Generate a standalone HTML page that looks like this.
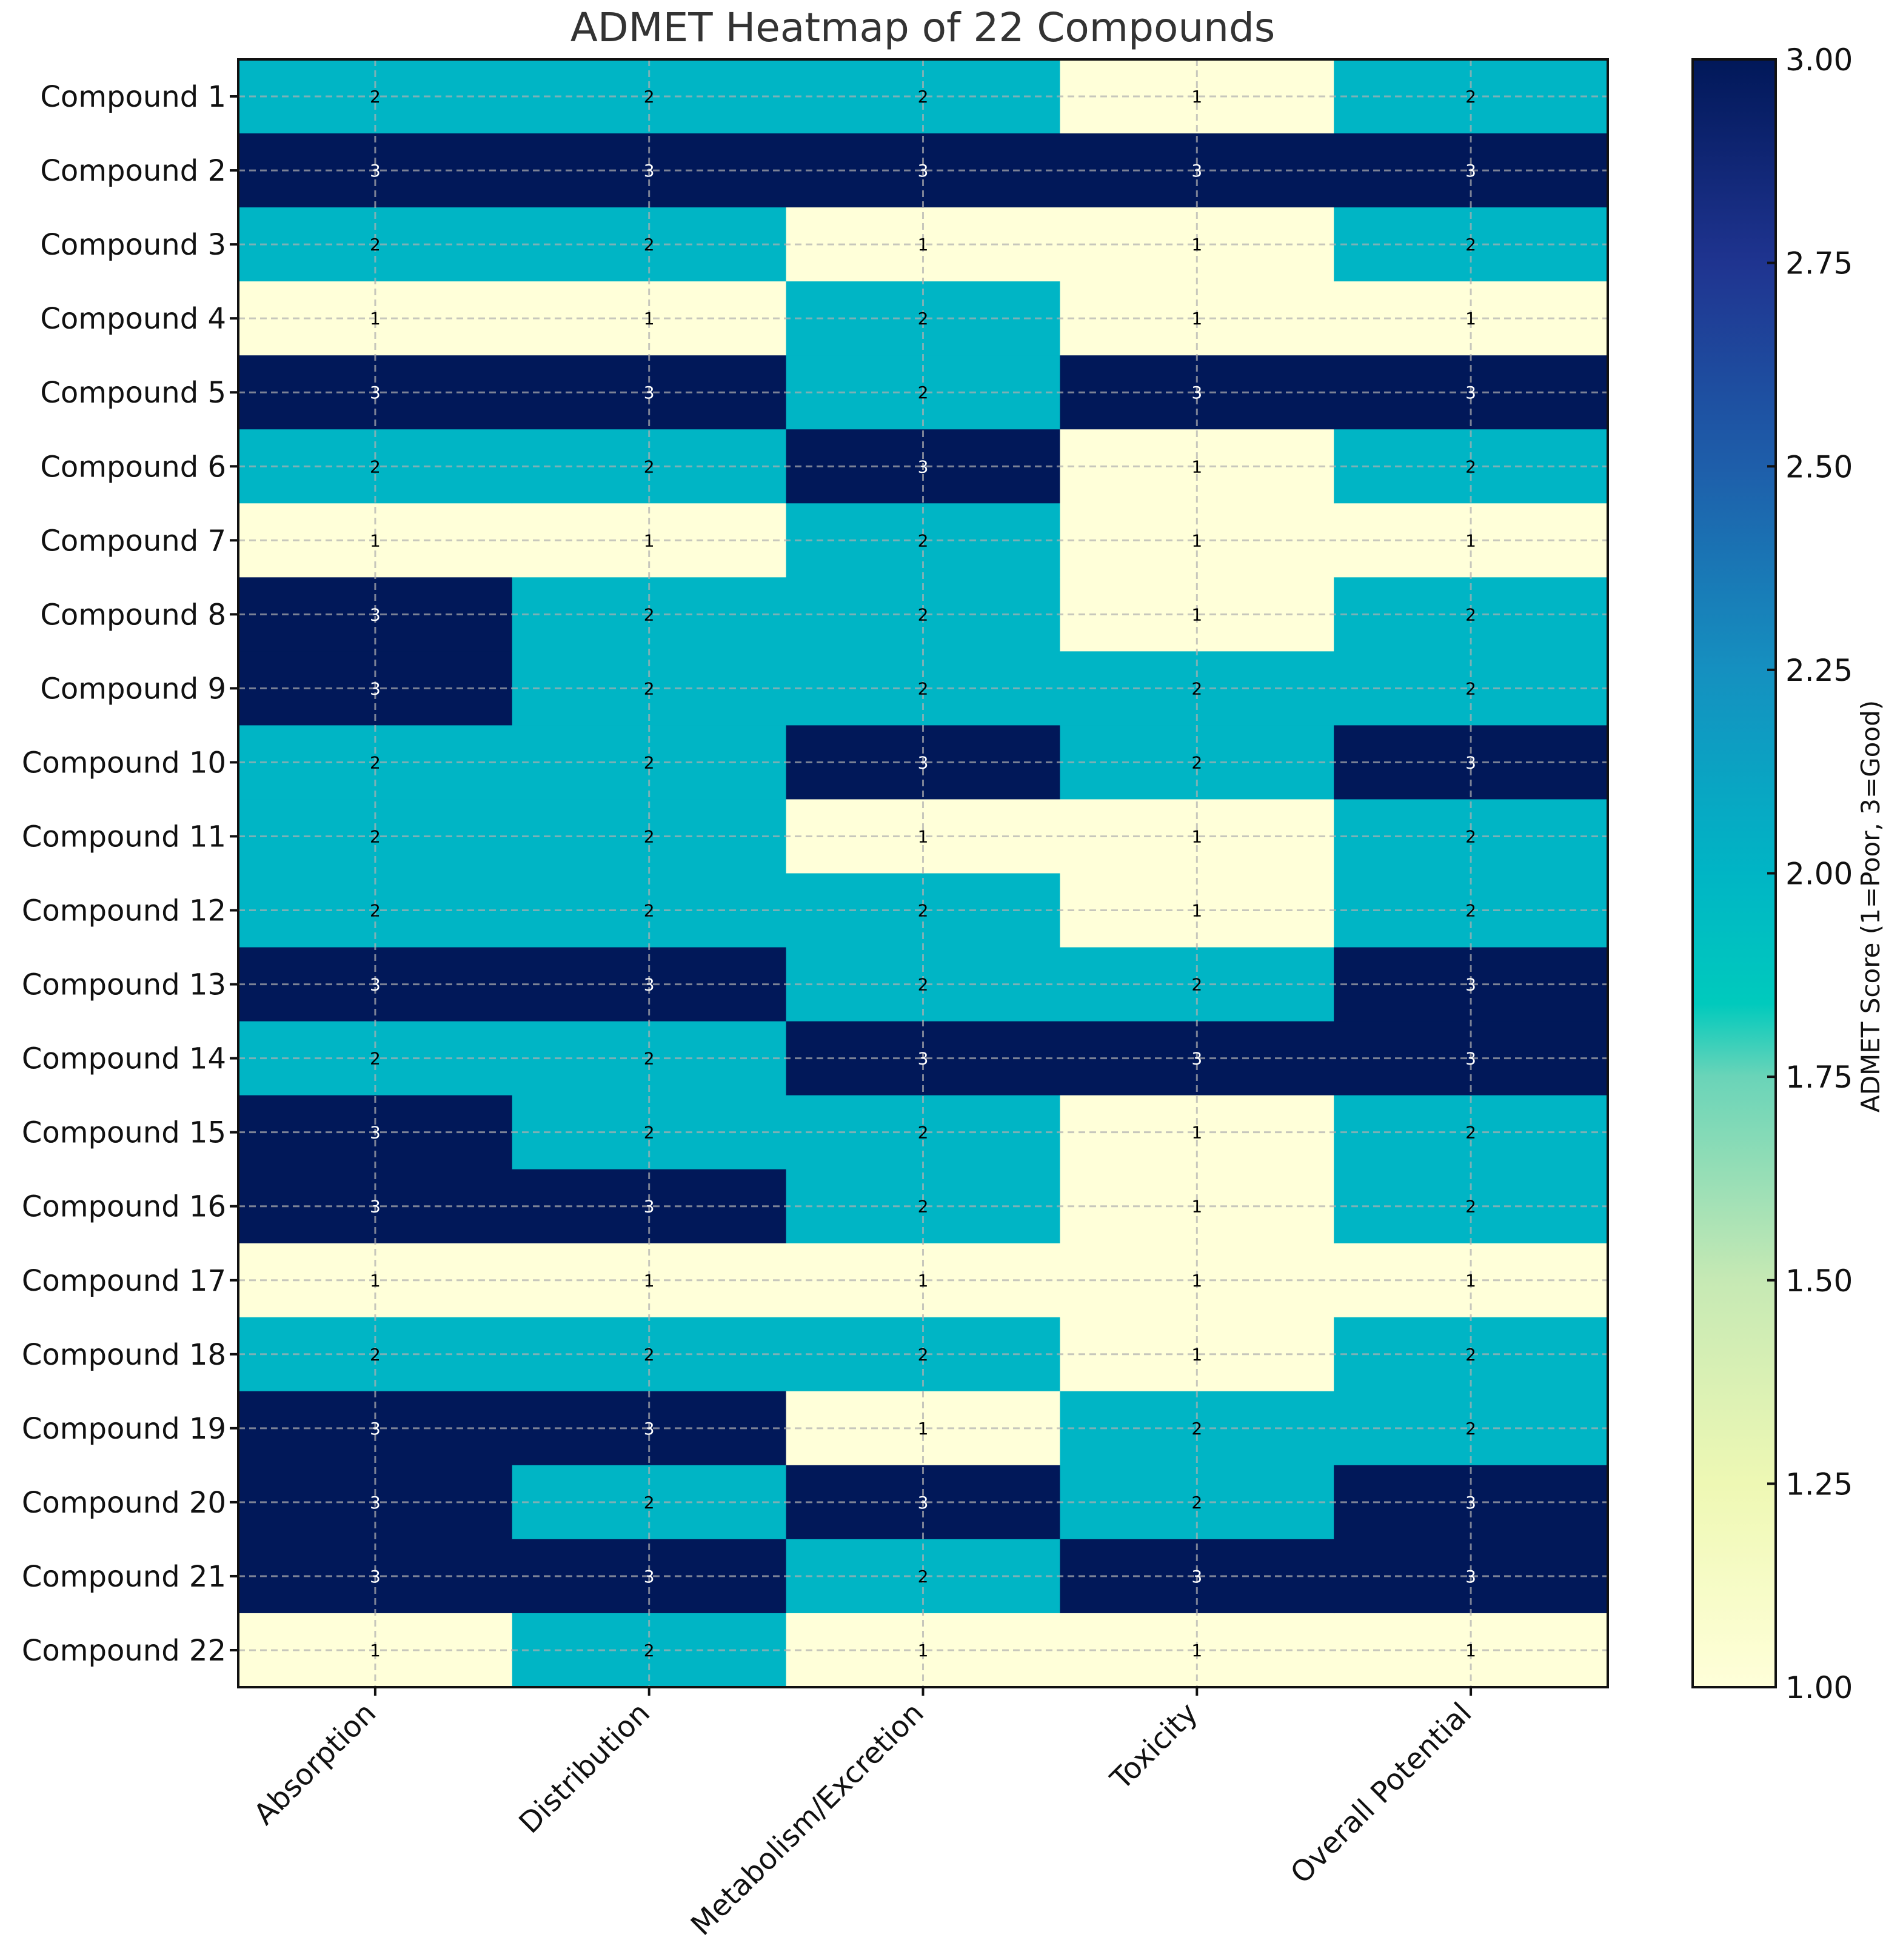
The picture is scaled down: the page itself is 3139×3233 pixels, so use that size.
<!DOCTYPE html>
<html><head><meta charset="utf-8"><style>
html,body{margin:0;padding:0;background:#fff;}
svg{display:block;font-family:"DejaVu Sans","Liberation Sans",sans-serif;}
</style></head><body>
<svg id="chart" width="3139" height="3233" viewBox="0 0 3139 3233" xmlns="http://www.w3.org/2000/svg">
<defs>
<linearGradient id="cmap" x1="0" y1="1" x2="0" y2="0">
<stop offset="0" stop-color="#ffffd9"/>
<stop offset="0.125" stop-color="#eef8b4"/>
<stop offset="0.25" stop-color="#c6e9b4"/>
<stop offset="0.375" stop-color="#6ad4b8"/>
<stop offset="0.42" stop-color="#00cabd"/>
<stop offset="0.5" stop-color="#00b5c5"/>
<stop offset="0.625" stop-color="#1590c0"/>
<stop offset="0.75" stop-color="#1e5eaa"/>
<stop offset="0.875" stop-color="#1f3490"/>
<stop offset="1" stop-color="#011859"/>
</linearGradient>
</defs>
<text x="1522" y="68" font-size="66" fill="#333" text-anchor="middle">ADMET Heatmap of 22 Compounds</text>
<g id="cells"></g>
<g id="grid"></g>
<g id="annot"></g>
<rect x="393" y="98" width="2259" height="2685" fill="none" stroke="#111" stroke-width="4"/>
<g id="axes"></g>
<rect x="2792" y="98" width="137" height="2685" fill="url(#cmap)" stroke="#111" stroke-width="4"/>
<g id="cbar"></g>
<text transform="translate(3100,1495) rotate(-90)" font-size="42" fill="#111" text-anchor="middle">ADMET Score (1=Poor, 3=Good)</text>
</svg>
<script>
const compounds = ["Compound 1","Compound 2","Compound 3","Compound 4","Compound 5","Compound 6","Compound 7","Compound 8","Compound 9","Compound 10","Compound 11","Compound 12","Compound 13","Compound 14","Compound 15","Compound 16","Compound 17","Compound 18","Compound 19","Compound 20","Compound 21","Compound 22"];
const properties = ["Absorption","Distribution","Metabolism/Excretion","Toxicity","Overall Potential"];
const absorption   = [2,3,2,1,3,2,1,3,3,2,2,2,3,2,3,3,1,2,3,3,3,1];
const distribution = [2,3,2,1,3,2,1,2,2,2,2,2,3,2,2,3,1,2,3,2,3,2];
const metabolism   = [2,3,1,2,2,3,2,2,2,3,1,2,2,3,2,2,1,2,1,3,2,1];
const toxicity     = [1,3,1,1,3,1,1,1,2,2,1,1,2,3,1,1,1,1,2,2,3,1];
const overall      = [2,3,2,1,3,2,1,2,2,3,2,2,3,3,2,2,1,2,2,3,3,1];
const cbarTicks = [1.00,1.25,1.50,1.75,2.00,2.25,2.50,2.75,3.00];
const vmin = 1, vmax = 3;

const NS = "http://www.w3.org/2000/svg";
const L = 393, T = 98, W = 2259, H = 2685;
const series = [absorption, distribution, metabolism, toxicity, overall];
const nC = properties.length, nR = compounds.length;
const cw = W / nC, ch = H / nR;
function xCol(i){ return L + i * cw; }
function yRow(j){ return T + j * ch; }
function yVal(v){ return T + H - (v - vmin) / (vmax - vmin) * H; }
function color(v){
  if (v <= 1) return "#ffffd9";
  if (v >= 3) return "#011859";
  return "#00b5c5";
}
function mk(tag, attrs, parent){
  const e = document.createElementNS(NS, tag);
  for (const k in attrs) e.setAttribute(k, attrs[k]);
  parent.appendChild(e);
  return e;
}
const cells = document.getElementById("cells");
const grid = document.getElementById("grid");
const annot = document.getElementById("annot");
const axes = document.getElementById("axes");
const cbar = document.getElementById("cbar");

for (let i = 0; i < nC; i++) {
  for (let j = 0; j < nR; j++) {
    const v = series[i][j];
    const r = mk("rect", {x: xCol(i), y: yRow(j), width: cw + 0.5, height: ch + 0.5, fill: color(v)}, cells);
    
    
  }
}
for (let i = 0; i < nC; i++) {
  const cx = xCol(i) + cw / 2;
  const g = mk("line", {x1: cx, y1: T, x2: cx, y2: T + H, stroke: "#b0b0b0", "stroke-width": 3, "stroke-dasharray": "11,7", opacity: 0.7}, grid);
  
  
}
for (let j = 0; j < nR; j++) {
  const cy = yRow(j) + ch / 2;
  const g = mk("line", {x1: L, y1: cy, x2: L + W, y2: cy, stroke: "#b0b0b0", "stroke-width": 3, "stroke-dasharray": "11,7", opacity: 0.7}, grid);
  
  
}
for (let i = 0; i < nC; i++) {
  for (let j = 0; j < nR; j++) {
    const v = series[i][j];
    const t = mk("text", {x: xCol(i) + cw / 2, y: yRow(j) + ch / 2 + 10, "font-size": 28, "text-anchor": "middle", fill: v >= 3 ? "#fff" : "#000"}, annot);
    t.textContent = String(v);
    
    
  }
}
for (let j = 0; j < nR; j++) {
  const cy = yRow(j) + ch / 2;
  const tk = mk("line", {x1: L - 14, y1: cy, x2: L, y2: cy, stroke: "#111", "stroke-width": 4}, axes);
  
  
  const t = mk("text", {x: L - 20, y: cy + 17, "font-size": 48, "text-anchor": "end", fill: "#111"}, axes);
  t.textContent = compounds[j];
  
  
}
for (let i = 0; i < nC; i++) {
  const cx = xCol(i) + cw / 2;
  const tk = mk("line", {x1: cx, y1: T + H, x2: cx, y2: T + H + 14, stroke: "#111", "stroke-width": 4}, axes);
  
  
  const t = mk("text", {transform: "translate(" + (cx - 22) + "," + (T + H + 20) + ") rotate(-45)", dy: "0.76em", "font-size": 48, "text-anchor": "end", fill: "#111"}, axes);
  t.textContent = properties[i];
  
  
}
cbarTicks.forEach(function(v){
  const y = yVal(v);
  const tk = mk("line", {x1: 2915, y1: y, x2: 2929, y2: y, stroke: "#111", "stroke-width": 4}, cbar);
  
  
  const t = mk("text", {x: 2945, y: y + 18, "font-size": 50, fill: "#111"}, cbar);
  t.textContent = v.toFixed(2);
  
  
});
</script>
</body></html>
